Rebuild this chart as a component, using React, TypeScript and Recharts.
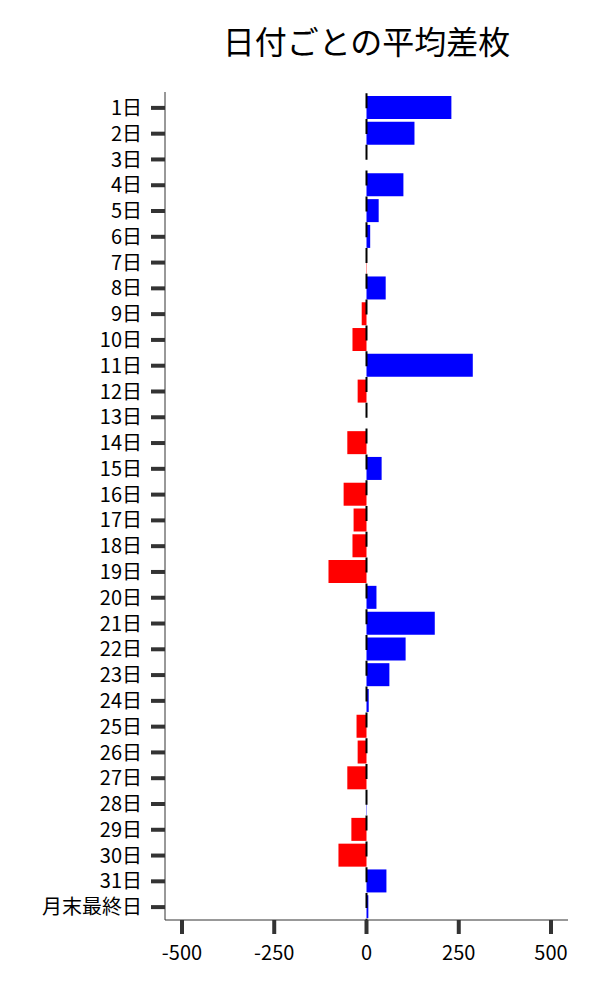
import React from 'react'
import { ComposedChart, Bar, XAxis, YAxis, Cell, ReferenceLine } from 'recharts'

const days: string[] = [
  '1日', '2日', '3日', '4日', '5日', '6日', '7日', '8日', '9日', '10日',
  '11日', '12日', '13日', '14日', '15日', '16日', '17日', '18日', '19日', '20日',
  '21日', '22日', '23日', '24日', '25日', '26日', '27日', '28日', '29日', '30日',
  '31日', '月末最終日',
]

const avgDiff: number[] = [
  230, 130, 0, 100, 33, 10, -1, 52, -13, -38,
  288, -24, 0, -52, 41, -62, -35, -38, -103, 27,
  185, 106, 62, 6, -27, -24, -52, 1, -41, -76,
  54, 5,
]

const xTicks: number[] = [-500, -250, 0, 250, 500]

const rows = days.map((d, i) => ({ day: d, value: avgDiff[i] }))

const font = '"Noto Sans CJK JP", "Noto Sans", sans-serif'

const App = () => {
  return (
    <div style={{ position: 'relative', width: 600, height: 1000, fontFamily: font }}>
      <div
        style={{
          position: 'absolute',
          top: 9,
          left: 157,
          width: 403,
          textAlign: 'center',
          fontSize: 32,
          color: '#000',
        }}
      >
        日付ごとの平均差枚
      </div>
      <ComposedChart
        width={600}
        height={1000}
        data={rows}
        layout="vertical"
        margin={{ top: 84, right: 40, bottom: 8, left: 0 }}
      >
        <XAxis
          type="number"
          domain={[-546, 546]}
          ticks={xTicks}
          height={80}
          allowDataOverflow
          axisLine={{ stroke: '#333', strokeWidth: 1 }}
          tickLine={{ stroke: '#333', strokeWidth: 4 }}
          tickSize={14}
          tickMargin={12}
          tick={{ fill: '#000', fontSize: 20, fontWeight: 400, fontFamily: font }}
        />
        <YAxis
          type="category"
          dataKey="day"
          width={157}
          interval={0}
          padding={{ top: 3, bottom: 0 }}
          axisLine={{ stroke: '#333', strokeWidth: 1 }}
          tickLine={{ stroke: '#333', strokeWidth: 4 }}
          tickSize={14}
          tickMargin={9}
          tick={{ fill: '#000', fontSize: 20, fontWeight: 400, fontFamily: font }}
        />
        <Bar dataKey="value" barSize={23} isAnimationActive={false}>
          {rows.map((r, i) => (
            <Cell key={i} fill={r.value >= 0 ? '#0000ff' : '#ff0000'} />
          ))}
        </Bar>
        <ReferenceLine
          x={0}
          stroke="#000"
          strokeWidth={2}
          strokeDasharray="15 10.8"
          strokeDashoffset={-12}
        />
      </ComposedChart>
    </div>
  )
}

export default App
